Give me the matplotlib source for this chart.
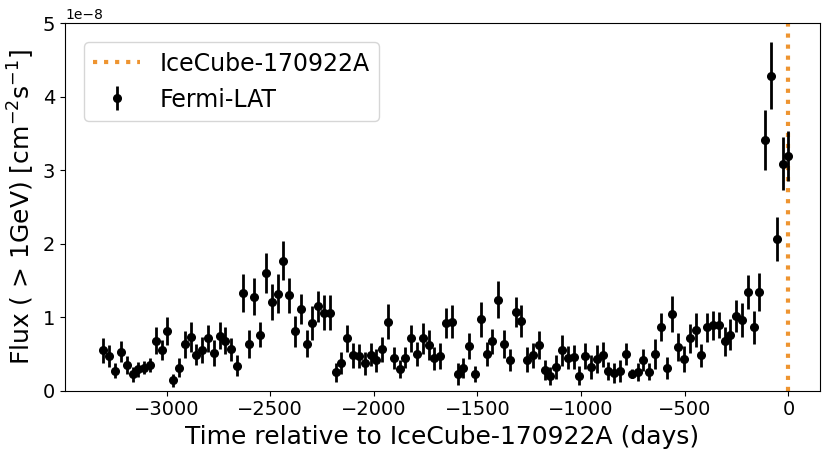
import matplotlib
matplotlib.use("Agg")
import matplotlib.pyplot as plt

# tempo relativo ao alerta (dias), bins de 28 dias
dias = [
    -3304, -3276, -3248, -3220, -3192, -3164, -3136, -3108, -3080, -3052,
    -3024, -2996, -2968, -2940, -2912, -2884, -2856, -2828, -2800, -2772,
    -2744, -2716, -2688, -2660, -2632, -2604, -2576, -2548, -2520, -2492,
    -2464, -2436, -2408, -2380, -2352, -2324, -2296, -2268, -2240, -2212,
    -2184, -2156, -2128, -2100, -2072, -2044, -2016, -1988, -1960, -1932,
    -1904, -1876, -1848, -1820, -1792, -1764, -1736, -1708, -1680, -1652,
    -1624, -1596, -1568, -1540, -1512, -1484, -1456, -1428, -1400, -1372,
    -1344, -1316, -1288, -1260, -1232, -1204, -1176, -1148, -1120, -1092,
    -1064, -1036, -1008, -980, -952, -924, -896, -868, -840, -812,
    -784, -756, -728, -700, -672, -644, -616, -588, -560, -532,
    -504, -476, -448, -420, -392, -364, -336, -308, -280, -252,
    -224, -196, -168, -140, -112, -84, -56, -28, 0,
]

# fluxo (> 1 GeV) em unidades de 1e-8 cm^-2 s^-1
fluxo = [
    0.55, 0.47, 0.27, 0.53, 0.35, 0.22, 0.29, 0.31, 0.35, 0.68,
    0.55, 0.81, 0.14, 0.31, 0.63, 0.73, 0.49, 0.55, 0.71, 0.51,
    0.75, 0.68, 0.56, 0.34, 1.33, 0.63, 1.28, 0.76, 1.60, 1.20,
    1.32, 1.77, 1.30, 0.81, 1.11, 0.64, 0.92, 1.15, 1.06, 1.06,
    0.25, 0.38, 0.71, 0.48, 0.47, 0.37, 0.49, 0.41, 0.56, 0.94,
    0.45, 0.29, 0.45, 0.71, 0.50, 0.71, 0.62, 0.44, 0.47, 0.92,
    0.94, 0.22, 0.31, 0.61, 0.23, 0.97, 0.50, 0.67, 1.24, 0.64,
    0.42, 1.07, 0.95, 0.42, 0.48, 0.62, 0.28, 0.20, 0.32, 0.55,
    0.45, 0.46, 0.20, 0.47, 0.32, 0.43, 0.49, 0.27, 0.24, 0.27,
    0.50, 0.23, 0.25, 0.42, 0.26, 0.50, 0.86, 0.31, 1.04, 0.59,
    0.43, 0.71, 0.82, 0.48, 0.86, 0.89, 0.89, 0.67, 0.76, 1.02,
    0.96, 1.34, 0.86, 1.34, 3.41, 4.29, 2.07, 3.09, 3.19,
]

erro = [
    0.17, 0.145, 0.10, 0.14, 0.12, 0.10, 0.10, 0.09, 0.10, 0.18,
    0.14, 0.19, 0.09, 0.13, 0.18, 0.21, 0.145, 0.18, 0.18, 0.18,
    0.19, 0.18, 0.16, 0.14, 0.26, 0.19, 0.25, 0.17, 0.27, 0.245,
    0.27, 0.27, 0.24, 0.21, 0.20, 0.18, 0.23, 0.21, 0.24, 0.235,
    0.13, 0.15, 0.19, 0.17, 0.16, 0.16, 0.16, 0.16, 0.17, 0.24,
    0.15, 0.12, 0.145, 0.19, 0.16, 0.21, 0.20, 0.16, 0.18, 0.21,
    0.22, 0.15, 0.14, 0.18, 0.11, 0.24, 0.16, 0.17, 0.25, 0.19,
    0.15, 0.21, 0.22, 0.17, 0.17, 0.19, 0.14, 0.12, 0.16, 0.21,
    0.16, 0.16, 0.13, 0.18, 0.16, 0.19, 0.17, 0.12, 0.14, 0.15,
    0.15, 0.06, 0.12, 0.15, 0.11, 0.20, 0.19, 0.15, 0.245, 0.19,
    0.18, 0.20, 0.23, 0.16, 0.20, 0.20, 0.18, 0.20, 0.21, 0.22,
    0.23, 0.235, 0.23, 0.26, 0.41, 0.45, 0.30, 0.36, 0.34,
]

escala = 1e-8
fluxo_abs = [f * escala for f in fluxo]
erro_abs = [e * escala for e in erro]

fig = plt.figure(figsize=(8.22, 4.5), dpi=100)
ax = fig.add_axes([0.079, 0.132, 0.918, 0.816])

ax.axvline(0, color="#ee9430", linestyle=":", linewidth=3, label="IceCube-170922A")
ax.errorbar(dias, fluxo_abs, yerr=erro_abs, fmt="o", color="black",
            markersize=5.5, elinewidth=2, capsize=0, label="Fermi-LAT")

ax.set_xlim(-3490, 150)
ax.set_ylim(0, 5e-8)
ax.set_xticks([-3000, -2500, -2000, -1500, -1000, -500, 0])
ax.tick_params(labelsize=14)
ax.yaxis.get_offset_text().set_fontsize(10)

ax.set_xlabel("Time relative to IceCube-170922A (days)", fontsize=18)
ax.set_ylabel("Flux ( > 1GeV) [cm$^{-2}$s$^{-1}$]", fontsize=18)

ax.legend(loc="upper left", fontsize=17, borderaxespad=0.8)

fig.savefig("out.png", dpi=100)
